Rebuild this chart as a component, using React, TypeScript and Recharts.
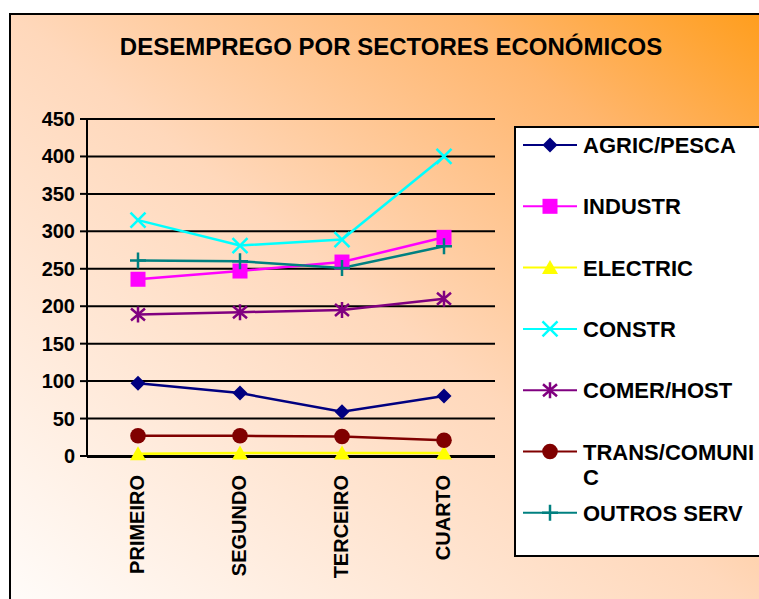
import React from 'react';
import { LineChart, Line, XAxis, YAxis, CartesianGrid } from 'recharts';

const CATEGORIES = ['PRIMEIRO', 'SEGUNDO', 'TERCEIRO', 'CUARTO'];
const AGRIC = [97, 84, 59, 80];
const INDUSTR = [236, 247, 259, 292];
const ELECTRIC = [3, 4, 4, 4];
const CONSTR = [315, 281, 289, 400];
const COMER = [189, 192, 195, 210];
const TRANS = [27, 27, 26, 21];
const OUTROS = [261, 260, 251, 280];
const Y_TICKS = [0, 50, 100, 150, 200, 250, 300, 350, 400, 450];
const EDGE_TICKS = [0, 1, 2, 3, 4];

const FONT = '"Liberation Sans", Arial, sans-serif';

type Shape = 'diamond' | 'square' | 'triangle' | 'x' | 'asterisk' | 'circle' | 'plus';

const SERIES: { key: string; label: string[]; color: string; shape: Shape; values: number[] }[] = [
  { key: 'agric', label: ['AGRIC/PESCA'], color: '#000080', shape: 'diamond', values: AGRIC },
  { key: 'industr', label: ['INDUSTR'], color: '#ff00ff', shape: 'square', values: INDUSTR },
  { key: 'electric', label: ['ELECTRIC'], color: '#ffff00', shape: 'triangle', values: ELECTRIC },
  { key: 'constr', label: ['CONSTR'], color: '#00ffff', shape: 'x', values: CONSTR },
  { key: 'comer', label: ['COMER/HOST'], color: '#800080', shape: 'asterisk', values: COMER },
  { key: 'trans', label: ['TRANS/COMUNI', 'C'], color: '#800000', shape: 'circle', values: TRANS },
  { key: 'outros', label: ['OUTROS SERV'], color: '#008080', shape: 'plus', values: OUTROS },
];

const data = CATEGORIES.map((cat, i) => {
  const row: Record<string, string | number> = { cat };
  SERIES.forEach((s) => { row[s.key] = s.values[i]; });
  return row;
});

function Marker({ shape, cx, cy, color }: { shape: Shape; cx: number; cy: number; color: string }) {
  switch (shape) {
    case 'diamond':
      return <polygon points={`${cx},${cy - 7.5} ${cx + 7.5},${cy} ${cx},${cy + 7.5} ${cx - 7.5},${cy}`} fill={color} />;
    case 'square':
      return <rect x={cx - 7.5} y={cy - 7.5} width={15} height={15} fill={color} />;
    case 'triangle':
      return <polygon points={`${cx},${cy - 7.5} ${cx + 8},${cy + 6.5} ${cx - 8},${cy + 6.5}`} fill={color} />;
    case 'x':
      return <path d={`M${cx - 7.5},${cy - 7.5}L${cx + 7.5},${cy + 7.5}M${cx + 7.5},${cy - 7.5}L${cx - 7.5},${cy + 7.5}`} stroke={color} strokeWidth={2.5} fill="none" />;
    case 'asterisk':
      return <path d={`M${cx - 7},${cy - 6}L${cx + 7},${cy + 6}M${cx + 7},${cy - 6}L${cx - 7},${cy + 6}M${cx},${cy - 8}L${cx},${cy + 8}`} stroke={color} strokeWidth={2.5} fill="none" />;
    case 'circle':
      return <circle cx={cx} cy={cy} r={7.8} fill={color} />;
    case 'plus':
    default:
      return <path d={`M${cx - 8},${cy}L${cx + 8},${cy}M${cx},${cy - 8}L${cx},${cy + 8}`} stroke={color} strokeWidth={2.5} fill="none" />;
  }
}

const YTick = ({ x, y, payload }: any) => (
  <text x={x - 3} y={y} dy={7} textAnchor="end" fontFamily={FONT} fontWeight="bold" fontSize={20} fill="#000">
    {payload.value}
  </text>
);

// category labels sit at a fixed baseline below the axis, read bottom-to-top
const XTick = ({ x, payload }: any) => (
  <text
    x={x + 6}
    y={475}
    transform={`rotate(-90, ${x + 6}, 475)`}
    textAnchor="end"
    fontFamily={FONT}
    fontWeight="bold"
    fontSize={20}
    fill="#000"
  >
    {payload.value}
  </text>
);

export default function App() {
  return (
    <div style={{ position: 'absolute', left: 0, top: 0, width: 759, height: 599, overflow: 'hidden' }}>
      {/* chart frame with gradient fill */}
      <div
        style={{
          position: 'absolute', left: 9, top: 13, width: 800, height: 640,
          border: '2px solid #000',
          background: 'linear-gradient(to top right, #ffffff 0%, #ffd8bb 50%, #ffb66e 78%, #ff9a10 100%)',
        }}
      />
      {/* legend box */}
      <div
        style={{
          position: 'absolute', left: 514, top: 126, width: 300, height: 427,
          border: '2px solid #000', background: '#fff',
        }}
      />
      <div style={{ position: 'absolute', left: 0, top: 0 }}>
        <LineChart width={759} height={599} data={data} margin={{ top: 119, right: 264, bottom: 1, left: 0 }}>
          <CartesianGrid vertical={false} stroke="#000" strokeWidth={2} />
          <XAxis
            dataKey="cat"
            height={1}
            padding={{ left: 51, right: 51 }}
            axisLine={false}
            tickLine={false}
            tick={<XTick />}
            interval={0}
          />
          <XAxis
            xAxisId="edges"
            type="number"
            domain={[0, 4]}
            ticks={EDGE_TICKS}
            allowDataOverflow
            height={141}
            axisLine={{ stroke: '#000', strokeWidth: 2 }}
            tick={false}
            tickLine={{ stroke: '#000', strokeWidth: 2 }}
            tickSize={7}
          />
          <YAxis
            width={87}
            domain={[0, 450]}
            ticks={Y_TICKS}
            interval={0}
            axisLine={{ stroke: '#000', strokeWidth: 2 }}
            tickLine={{ stroke: '#000', strokeWidth: 2 }}
            tickSize={7}
            tick={<YTick />}
          />
          {SERIES.map((s) => (
            <Line
              key={s.key}
              dataKey={s.key}
              name={s.label.join('')}
              type="linear"
              stroke={s.color}
              strokeWidth={2.5}
              isAnimationActive={false}
              dot={(p: any) => <Marker key={`${s.key}-${p.index}`} shape={s.shape} cx={p.cx} cy={p.cy} color={s.color} />}
            />
          ))}
        </LineChart>
      </div>
      <svg width={759} height={599} style={{ position: 'absolute', left: 0, top: 0, pointerEvents: 'none' }}>
        <text x={391} y={55} textAnchor="middle" fontFamily={FONT} fontWeight="bold" fontSize={24} fill="#000">
          DESEMPREGO POR SECTORES ECONÓMICOS
        </text>
        {SERIES.map((s, i) => {
          const cy = 145 + i * 61.3;
          return (
            <g key={s.key}>
              <line x1={523} x2={577} y1={cy} y2={cy} stroke={s.color} strokeWidth={2} />
              <Marker shape={s.shape} cx={550} cy={cy} color={s.color} />
              {s.label.map((ln, j) => (
                <text key={j} x={583} y={cy + 8 + j * 25} fontFamily={FONT} fontWeight="bold" fontSize={22} fill="#000">
                  {ln}
                </text>
              ))}
            </g>
          );
        })}
      </svg>
    </div>
  );
}
